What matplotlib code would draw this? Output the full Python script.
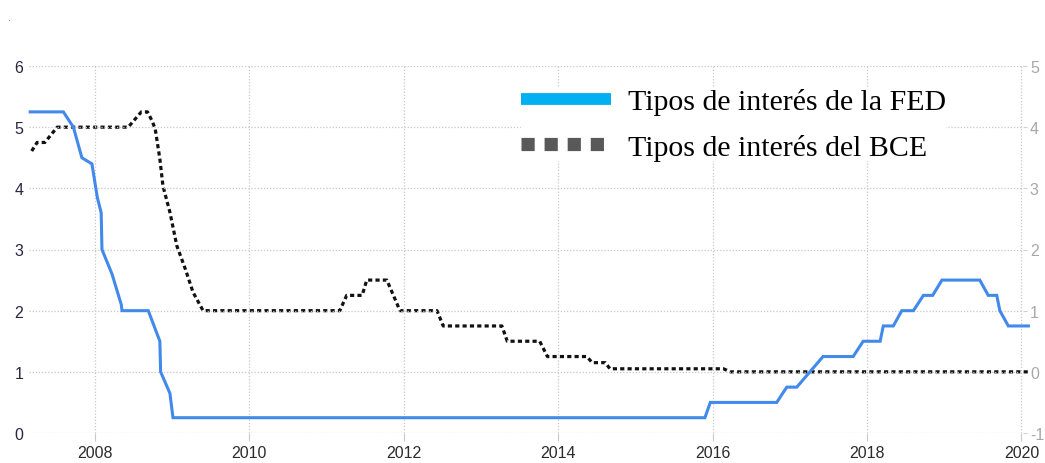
import numpy as np
import matplotlib.pyplot as plt
from matplotlib.lines import Line2D

# Tipos de la FED (eje izquierdo), año decimal
fed_x = [2007.16, 2007.59, 2007.72, 2007.83, 2007.96, 2008.03, 2008.08, 2008.09,
         2008.22, 2008.34, 2008.35, 2008.69, 2008.84, 2008.85, 2008.97, 2009.01,
         2015.90, 2015.97, 2016.83, 2016.96, 2017.09, 2017.43, 2017.82, 2017.95,
         2018.17, 2018.21, 2018.34, 2018.45, 2018.60, 2018.73, 2018.85, 2018.97,
         2019.46, 2019.57, 2019.68, 2019.72, 2019.83, 2020.09]
fed_y = [5.25, 5.25, 5.0, 4.5, 4.4, 3.85, 3.6, 3.0,
         2.6, 2.1, 2.0, 2.0, 1.5, 1.0, 0.65, 0.25,
         0.25, 0.5, 0.5, 0.75, 0.75, 1.25, 1.25, 1.5,
         1.5, 1.75, 1.75, 2.0, 2.0, 2.25, 2.25, 2.5,
         2.5, 2.25, 2.25, 2.0, 1.75, 1.75]

# Tipos del BCE (eje derecho)
ecb_x = [2007.18, 2007.25, 2007.35, 2007.51, 2008.43, 2008.60, 2008.68, 2008.74,
         2008.78, 2008.84, 2008.88, 2008.97, 2009.06, 2009.17, 2009.27, 2009.40,
         2011.17, 2011.26, 2011.46, 2011.52, 2011.78, 2011.95, 2012.43, 2012.51,
         2013.27, 2013.34, 2013.76, 2013.86, 2014.37, 2014.44, 2014.61, 2014.67,
         2016.14, 2016.23, 2020.09]
ecb_y = [3.61, 3.75, 3.75, 4.0, 4.0, 4.25, 4.25, 4.1,
         3.97, 3.48, 3.04, 2.61, 2.06, 1.68, 1.3, 1.0,
         1.0, 1.25, 1.25, 1.5, 1.5, 1.0, 1.0, 0.75,
         0.75, 0.5, 0.5, 0.25, 0.25, 0.15, 0.15, 0.05,
         0.05, 0.0, 0.0]

x_ticks = [2008, 2010, 2012, 2014, 2016, 2018, 2020]
left_ticks = [0, 1, 2, 3, 4, 5, 6]
right_ticks = [-1, 0, 1, 2, 3, 4, 5]
legend_labels = ["Tipos de interés de la FED", "Tipos de interés del BCE"]

plt.rcParams['font.family'] = ['Liberation Sans', 'DejaVu Sans']
plt.rcParams['axes.unicode_minus'] = False

fig = plt.figure(figsize=(10.45, 4.64), dpi=100)
ax = fig.add_axes([29 / 1045, 1 - 434 / 464, 994 / 1045, 367 / 464])
ax2 = ax.twinx()

ax.plot(fed_x, fed_y, color='#4189ea', lw=2.2, solid_joinstyle='miter', zorder=3,
        clip_on=False)
ax2.plot(ecb_x, ecb_y, color='#111111', lw=2.3, linestyle=(0, (1.3, 1.0)), zorder=3,
         clip_on=False)

ax.set_xlim(2007.145, 2020.02)
ax.set_ylim(0, 6)
ax2.set_ylim(-1, 5)
ax.set_xticks(x_ticks)
ax.set_xticklabels([str(t) for t in x_ticks])
ax.set_yticks(left_ticks)
ax2.set_yticks(right_ticks)
ax2.set_yticklabels([str(t) for t in right_ticks])

for a in (ax, ax2):
    for s in a.spines.values():
        s.set_visible(False)

ax.grid(True, color='#c8c8c8', linestyle=(0, (1, 1.5)), lw=0.9)
ax.tick_params(axis='y', length=0, pad=4, labelsize=11.5, labelcolor='#2b2440')
ax.tick_params(axis='x', length=6, pad=3, labelsize=11.5, labelcolor='#2b2b2b',
               color='#c8c8c8')
ax2.tick_params(axis='y', length=3, pad=2, labelsize=11.5, labelcolor='#a8a8a8',
                color='#d0d0d0')
ax.set_zorder(ax2.get_zorder() + 1)
ax.patch.set_visible(False)

handles = [Line2D([], [], color='#00b0f0', lw=8.5, solid_capstyle='butt'),
           Line2D([], [], color='#595959', lw=9.5, linestyle=(0, (1.0, 0.75)),
                  dash_capstyle='butt')]
leg = ax.legend(handles, legend_labels, loc='upper left',
                bbox_to_anchor=(521 / 1045, 1 - 89 / 464), bbox_transform=fig.transFigure,
                prop={'family': 'Liberation Serif', 'size': 21.5},
                handlelength=3.0, handletextpad=0.57, labelspacing=0.62,
                borderpad=0.0, borderaxespad=0.0, frameon=True, fancybox=False)
leg.get_frame().set_facecolor('white')
leg.get_frame().set_edgecolor('none')
leg.get_frame().set_alpha(1)

fig.text(0.008, 0.955, '.', color='#4189ea', fontsize=8)

fig.savefig('out.png', dpi=100)
